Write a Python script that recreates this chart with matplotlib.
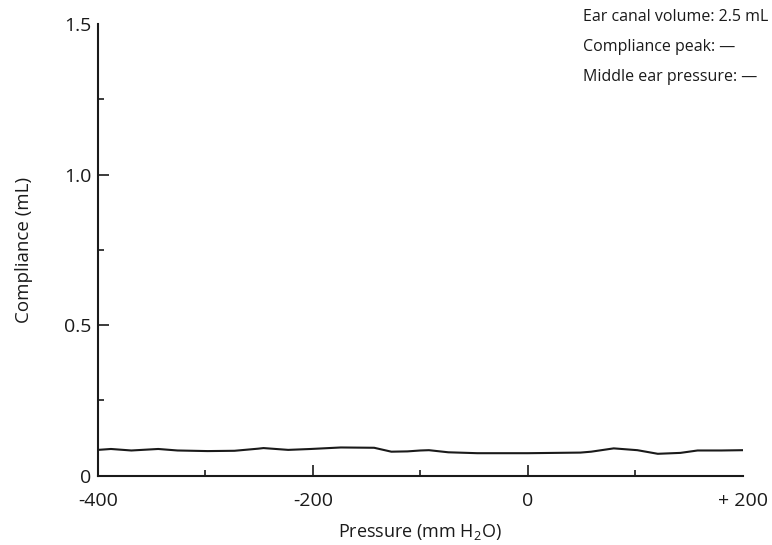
"""Flat tympanogram: compliance vs. pressure with ear canal volume note."""

import numpy as np
import matplotlib.pyplot as plt
from matplotlib.ticker import MultipleLocator

plt.rcParams["font.family"] = ["Open Sans", "DejaVu Sans"]
plt.rcParams["mathtext.fontset"] = "custom"
plt.rcParams["mathtext.rm"] = "Open Sans"

# traced curve (mm H2O, mL)
pressure = [-400, -388, -369, -344, -326, -298, -273, -251, -246, -223, -202,
            -174, -143, -127, -112, -100, -92, -74, -47, 0, 49, 59, 80, 102,
            121, 142, 158, 180, 200]
compliance = [0.086, 0.089, 0.084, 0.089, 0.084, 0.082, 0.083, 0.090, 0.092,
              0.086, 0.089, 0.094, 0.093, 0.080, 0.081, 0.084, 0.085, 0.078,
              0.075, 0.075, 0.077, 0.080, 0.091, 0.085, 0.073, 0.076, 0.084,
              0.084, 0.085]

x_ticks = [-400, -200, 0, 200]
x_ticklabels = ["-400", "-200", "0", "+ 200"]
y_ticks = [0, 0.5, 1.0, 1.5]
y_ticklabels = ["0", "0.5", "1.0", "1.5"]

notes = ["Ear canal volume: 2.5 mL", "Compliance peak: —", "Middle ear pressure: —"]

ink = "#1a1a1a"

fig = plt.figure(figsize=(7.72, 5.45), dpi=100)
ax = fig.add_axes([0.127, 0.127, 0.835, 0.829])

ax.plot(pressure, compliance, color=ink, lw=1.5, solid_joinstyle="round")

ax.set_xlim(-400, 200)
ax.set_ylim(0, 1.5)
for side in ("top", "right"):
    ax.spines[side].set_visible(False)
for side in ("left", "bottom"):
    ax.spines[side].set_linewidth(1.5)
    ax.spines[side].set_color(ink)

ax.set_xticks(x_ticks)
ax.set_xticklabels(x_ticklabels)
ax.set_yticks(y_ticks)
ax.set_yticklabels(y_ticklabels)
ax.xaxis.set_minor_locator(MultipleLocator(100))
ax.yaxis.set_minor_locator(MultipleLocator(0.25))
ax.tick_params(which="major", direction="in", length=8, width=1.2, color=ink,
               labelsize=14, labelcolor=ink)
ax.tick_params(which="minor", direction="in", length=4, width=1.2, color=ink)
ax.tick_params(axis="x", pad=12)
ax.tick_params(axis="y", pad=5)
ax.xaxis.get_major_ticks()[-1].tick1line.set_visible(False)
ax.yaxis.get_major_ticks()[-1].tick1line.set_visible(False)

ax.set_xlabel("Pressure (mm H$_2$O)", fontsize=13, color=ink, labelpad=8)
ax.set_ylabel("Compliance (mL)", fontsize=13.5, color=ink, labelpad=22)

for i, note in enumerate(notes):
    fig.text(0.755, 0.968 - i * 0.055, note, fontsize=11.5, color=ink,
             ha="left", va="center")

fig.savefig("out.png", dpi=100)
plt.close(fig)
